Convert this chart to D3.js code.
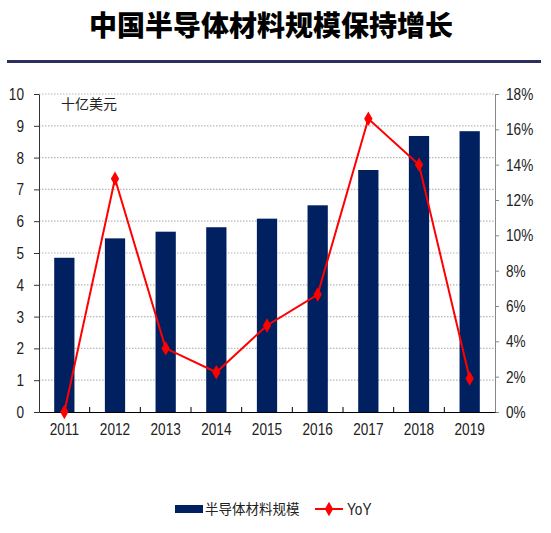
<!DOCTYPE html>
<html>
<head>
<meta charset="utf-8">
<script src="https://cdn.jsdelivr.net/npm/d3@7"></script>
<style>
  html, body { margin: 0; padding: 0; background: #fff; }
  svg { display: block; }
</style>
</head>
<body>
<div id="chart"></div>
<script>
// data
const years = ["2011", "2012", "2013", "2014", "2015", "2016", "2017", "2018", "2019"];
const scale = [4.85, 5.46, 5.67, 5.81, 6.08, 6.50, 7.61, 8.68, 8.83];   // 十亿美元
const yoy = [0.0, 13.2, 3.6, 2.25, 4.9, 6.65, 16.6, 14.0, 1.9];       // %
const leftTicks = [0, 1, 2, 3, 4, 5, 6, 7, 8, 9, 10];
const rightTicks = [0, 2, 4, 6, 8, 10, 12, 14, 16, 18];

const W = 551, H = 533;
const margin = { top: 94, right: 56, bottom: 121, left: 39 },
      width = W - margin.left - margin.right,
      height = H - margin.top - margin.bottom;

const numFont = "'Liberation Sans', Arial, sans-serif";
const cjkFont = "'Noto Sans CJK SC', 'Noto Sans', sans-serif";
const barColor = "#002060";
const lineColor = "#ff0000";

// the original uses a narrow face; squeeze the glyphs to match
function narrow(sel, k) {
    sel.each(function() {
        const len = this.getComputedTextLength();
        d3.select(this)
            .attr("textLength", len * k)
            .attr("lengthAdjust", "spacingAndGlyphs");
    });
}

const svg = d3.select("#chart").append("svg")
    .attr("width", W)
    .attr("height", H);

// title + rule
svg.append("text")
    .attr("x", 271)
    .attr("y", 36)
    .attr("text-anchor", "middle")
    .style("font-family", cjkFont)
    .style("font-size", "28px")
    .style("font-weight", "900")
    .attr("fill", "#000")
    .text("中国半导体材料规模保持增长");

svg.append("line")
    .attr("x1", 7).attr("x2", 541)
    .attr("y1", 61.5).attr("y2", 61.5)
    .attr("stroke", "#2b2e5e")
    .attr("stroke-width", 3);

const g = svg.append("g")
    .attr("transform", `translate(${margin.left},${margin.top})`);

const x = d3.scaleBand()
    .domain(years)
    .range([0, width])
    .paddingInner(0.6)
    .paddingOuter(0.3);

const y = d3.scaleLinear().domain([0, 10]).range([height, 0]);
const y2 = d3.scaleLinear().domain([0, 18]).range([height, 0]);

// dotted grid
g.append("g")
    .selectAll("line")
    .data(leftTicks.filter(d => d > 0))
    .enter()
    .append("line")
    .attr("x1", 0).attr("x2", width)
    .attr("y1", d => y(d)).attr("y2", d => y(d))
    .attr("stroke", "#b8b8b8")
    .attr("stroke-width", 1.2)
    .attr("stroke-dasharray", "1.5,1.5");

// bars
g.selectAll(".bar")
    .data(years)
    .enter()
    .append("rect")
    .attr("class", "bar")
    .attr("x", d => x(d))
    .attr("width", x.bandwidth())
    .attr("y", (d, i) => y(scale[i]))
    .attr("height", (d, i) => height - y(scale[i]))
    .attr("fill", barColor);

// left axis
const leftAxis = g.append("g")
    .call(d3.axisLeft(y).tickValues(leftTicks).tickSize(5).tickPadding(10).tickSizeOuter(0));
leftAxis.select(".domain").attr("stroke", "#333");
leftAxis.selectAll(".tick line").attr("stroke", "#333");
leftAxis.selectAll("text")
    .style("font-family", numFont)
    .style("font-size", "17px")
    .attr("fill", "#222")
    .call(narrow, 0.8);

// right axis
const rightAxis = g.append("g")
    .attr("transform", `translate(${width},0)`)
    .call(d3.axisRight(y2).tickValues(rightTicks).tickSize(4).tickPadding(7).tickSizeOuter(0)
        .tickFormat(d => d + "%"));
rightAxis.select(".domain").attr("stroke", "#888");
rightAxis.selectAll(".tick line").attr("stroke", "#888");
rightAxis.selectAll("text")
    .style("font-family", numFont)
    .style("font-size", "17px")
    .attr("fill", "#222")
    .call(narrow, 0.8);

// bottom axis: labels centred on bands, ticks at band edges pointing up
const bottomAxis = g.append("g")
    .attr("transform", `translate(0,${height})`)
    .call(d3.axisBottom(x).tickSize(0).tickPadding(11).tickSizeOuter(0));
bottomAxis.select(".domain").attr("stroke", "#000").attr("stroke-width", 1.2);
bottomAxis.selectAll("text")
    .style("font-family", numFont)
    .style("font-size", "17px")
    .attr("fill", "#222")
    .call(narrow, 0.8);

const edges = years.slice(1).map(d => x(d) - x.step() * x.paddingInner() / 2);
g.append("g")
    .selectAll("line")
    .data(edges)
    .enter()
    .append("line")
    .attr("x1", d => d).attr("x2", d => d)
    .attr("y1", height).attr("y2", height - 5)
    .attr("stroke", "#000");

// unit label
g.append("text")
    .attr("x", 22)
    .attr("y", 15)
    .style("font-family", cjkFont)
    .style("font-size", "14px")
    .attr("fill", "#222")
    .text("十亿美元");

// YoY line
const line = d3.line()
    .x((d, i) => x(years[i]) + x.bandwidth() / 2)
    .y(d => y2(d));

g.append("path")
    .datum(yoy)
    .attr("fill", "none")
    .attr("stroke", lineColor)
    .attr("stroke-width", 2)
    .attr("d", line);

const diamond = d3.symbol().type(d3.symbolDiamond).size(60);
g.selectAll(".dot")
    .data(yoy)
    .enter()
    .append("path")
    .attr("class", "dot")
    .attr("transform", (d, i) => `translate(${x(years[i]) + x.bandwidth() / 2},${y2(d)})`)
    .attr("d", diamond)
    .attr("fill", lineColor);

// legend
const legend = svg.append("g").attr("transform", "translate(175,509)");
legend.append("rect")
    .attr("x", 0).attr("y", -4)
    .attr("width", 28).attr("height", 8)
    .attr("fill", barColor);
legend.append("text")
    .attr("x", 30).attr("y", 0)
    .attr("dy", "0.35em")
    .style("font-family", cjkFont)
    .style("font-size", "13.5px")
    .attr("fill", "#222")
    .text("半导体材料规模");
legend.append("line")
    .attr("x1", 140).attr("x2", 168)
    .attr("y1", 0).attr("y2", 0)
    .attr("stroke", lineColor)
    .attr("stroke-width", 2);
legend.append("path")
    .attr("transform", "translate(154,0)")
    .attr("d", diamond)
    .attr("fill", lineColor);
legend.append("text")
    .attr("x", 172).attr("y", 0)
    .attr("dy", "0.35em")
    .style("font-family", numFont)
    .style("font-size", "17px")
    .attr("fill", "#222")
    .text("YoY")
    .call(narrow, 0.8);
</script>
</body>
</html>
